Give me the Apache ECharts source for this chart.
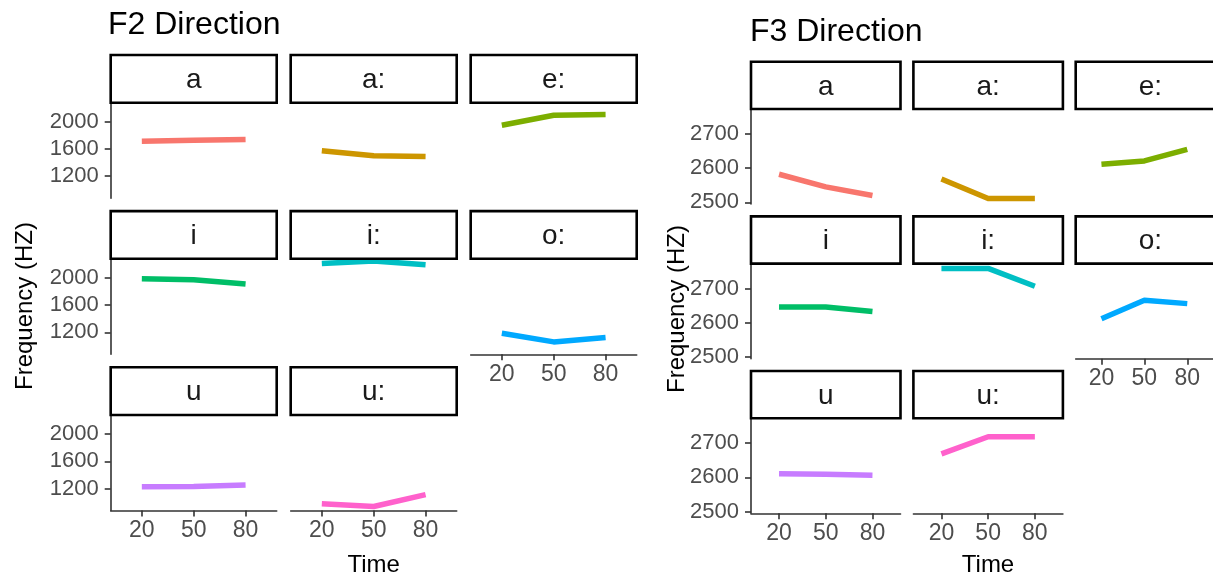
<!DOCTYPE html>
<html>
<head>
<meta charset="utf-8">
<script src="https://cdn.jsdelivr.net/npm/echarts@6/dist/echarts.min.js"></script>
<style>
html,body{margin:0;padding:0;background:#fff;}
#c{width:1213px;height:575px;}
</style>
</head>
<body>
<div id="c"></div>
<script>
// ---------- data ----------
const facets = ['a', 'a:', 'e:', 'i', 'i:', 'o:', 'u', 'u:'];
const timeLabels = ['20', '50', '80'];
const facetColors = ['#F8766D', '#CD9600', '#7CAE00', '#00BE67', '#00BFC4', '#00A9FF', '#C77CFF', '#FF61CC'];
// F2 values at times 20, 50, 80 for each facet
const f2Values = [
  [1716, 1728, 1741],
  [1575, 1500, 1488],
  [1951, 2097, 2108],
  [1988, 1975, 1913],
  [2215, 2250, 2195],
  [1185, 1058, 1124],
  [1225, 1228, 1250],
  [975, 934, 1110]
];
// F3 values at times 20, 50, 80 for each facet
const f3Values = [
  [2582, 2545, 2520],
  [2568, 2511, 2511],
  [2611, 2621, 2655],
  [2646, 2646, 2633],
  [2759, 2759, 2707],
  [2612, 2666, 2656],
  [2611, 2609, 2606],
  [2669, 2719, 2719]
];
const f2Ticks = [1200, 1600, 2000];
const f3Ticks = [2500, 2600, 2700];
const titles = ['F2 Direction', 'F3 Direction'];
const xTitle = 'Time';
const yTitle = 'Frequency (HZ)';

// ---------- layout ----------
const FONT = '"Liberation Sans", Arial, sans-serif';
const plots = [
  { values: f2Values, ticks: f2Ticks, yMin: 875, yMax: 2283,
    colLeft: [110.7, 290.7, 470.7], panelW: 166,
    stripTop: [55, 211.1, 367.3], stripH: 47.7, panelH: 95.5,
    title: titles[0], titleX: 108, titleY: 25,
    yTitleX: 25, yTitleY: 306, xTitleX: 373.7 },
  { values: f3Values, ticks: f3Ticks, yMin: 2495, yMax: 2773,
    colLeft: [751, 913.4, 1075.7], panelW: 149.5,
    stripTop: [61.7, 216.35, 371], stripH: 47.3, panelH: 95,
    title: titles[1], titleX: 750, titleY: 32,
    yTitleX: 677, yTitleY: 309, xTitleX: 988 }
];

const grids = [], xAxes = [], yAxes = [], series = [], graphics = [];
const axisColor = '#333333';
const labelColor = '#4D4D4D';

plots.forEach((p) => {
  p.values.forEach((vals, f) => {
    const row = Math.floor(f / 3), col = f % 3;
    const gi = grids.length;
    const left = p.colLeft[col];
    const stripTop = p.stripTop[row];
    const top = stripTop + p.stripH;
    grids.push({ left: left, top: top, width: p.panelW, height: p.panelH, containLabel: false });
    const showBottom = (f + 3 >= p.values.length);
    const showLeft = (col === 0);
    xAxes.push({
      gridIndex: gi, type: 'value', min: 0.4, max: 3.6,
      axisLine: { show: showBottom, onZero: false, lineStyle: { color: axisColor, width: 1.6 } },
      axisTick: { show: showBottom, customValues: [1, 2, 3], length: 6, lineStyle: { color: axisColor, width: 1.6 } },
      axisLabel: { show: showBottom, customValues: [1, 2, 3], margin: 9,
        formatter: (v) => timeLabels[Math.round(v) - 1],
        color: labelColor, fontSize: 23, fontFamily: FONT },
      splitLine: { show: false }
    });
    yAxes.push({
      gridIndex: gi, type: 'value', min: p.yMin, max: p.yMax,
      axisLine: { show: showLeft, onZero: false, lineStyle: { color: axisColor, width: 1.6 } },
      axisTick: { show: showLeft, customValues: p.ticks, length: 6, lineStyle: { color: axisColor, width: 1.6 } },
      axisLabel: { show: showLeft, customValues: p.ticks, margin: 12,
        formatter: (v) => String(v),
        color: labelColor, fontSize: 22, fontFamily: FONT },
      splitLine: { show: false }
    });
    series.push({
      type: 'line', xAxisIndex: gi, yAxisIndex: gi,
      data: vals.map((v, i) => [i + 1, v]),
      symbol: 'none', smooth: false,
      lineStyle: { color: facetColors[f], width: 5.5, cap: 'butt', join: 'round' },
      itemStyle: { color: facetColors[f] },
      silent: true, animation: false
    });
    // strip
    graphics.push({
      type: 'rect', shape: { x: left, y: stripTop, width: p.panelW, height: p.stripH },
      style: { fill: '#ffffff', stroke: '#000000', lineWidth: 2.6 }, z: 10
    });
    graphics.push({
      type: 'text', x: left + p.panelW / 2, y: stripTop + p.stripH / 2 + 1.5,
      style: { text: facets[f], fontSize: 28, fontFamily: FONT, fill: '#1A1A1A', align: 'center', verticalAlign: 'middle' }, z: 11
    });
  });
  // title
  graphics.push({
    type: 'text', x: p.titleX, y: p.titleY,
    style: { text: p.title, fontSize: 32, fontFamily: FONT, fill: '#000000', align: 'left', verticalAlign: 'middle' }, z: 11
  });
  // x title
  graphics.push({
    type: 'text', x: p.xTitleX, y: 565,
    style: { text: xTitle, fontSize: 24, fontFamily: FONT, fill: '#000000', align: 'center', verticalAlign: 'middle' }, z: 11
  });
  // y title
  graphics.push({
    type: 'text', x: p.yTitleX, y: p.yTitleY, rotation: Math.PI / 2,
    style: { text: yTitle, x: 0, y: 0, fontSize: 24, fontFamily: FONT, fill: '#000000', align: 'center', verticalAlign: 'middle' }, z: 11
  });
});

const chart = echarts.init(document.getElementById('c'), null, { renderer: 'canvas' });
chart.setOption({
  animation: false,
  backgroundColor: '#ffffff',
  grid: grids,
  xAxis: xAxes,
  yAxis: yAxes,
  series: series,
  graphic: graphics
});
</script>
</body>
</html>
